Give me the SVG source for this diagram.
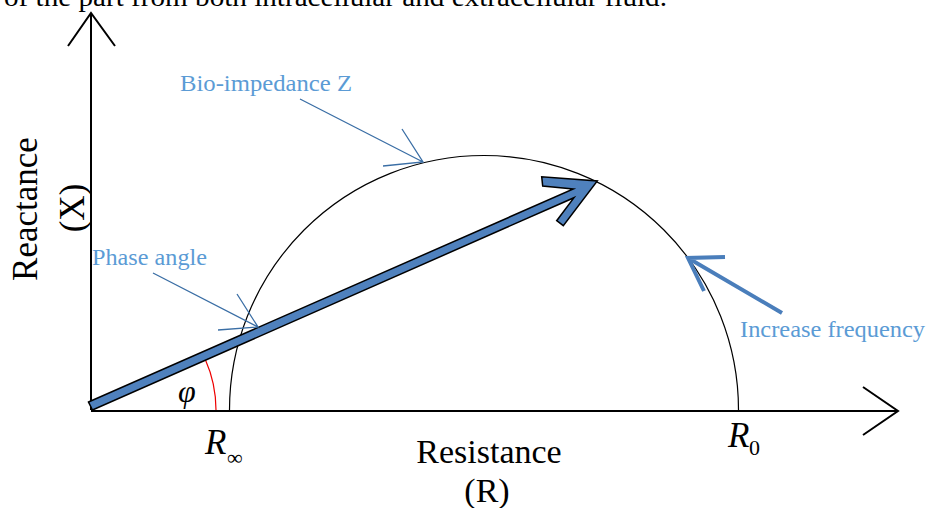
<svg xmlns="http://www.w3.org/2000/svg" width="926" height="508" viewBox="0 0 926 508">
<style>
.serif{font-family:"Liberation Serif","Times New Roman",serif;fill:#000}
.lbl{font-family:"Liberation Serif","Times New Roman",serif;fill:#5b9bd5;font-size:24px}
.axis{fill:none;stroke:#000;stroke-width:2}
.ptr{fill:none;stroke:#3a6ea5;stroke-width:1.3}
.it{font-style:italic}
</style>
<rect width="926" height="508" fill="#fff"/>
<text class="serif" x="4" y="6" font-size="28" textLength="663" lengthAdjust="spacingAndGlyphs">of the part from both intracellular and extracellular fluid.</text>
<g id="axes">
<path class="axis" d="M91,410 V13 M68,46 L91,13 L115,46"/>
<path class="axis" d="M91,411 H898 M863,387 L898,411 L863,435"/>
</g>
<g id="semicircle">
<path d="M229.5,410 A254.5,254.5 0 0 1 738.5,410" fill="none" stroke="#000" stroke-width="1.2"/>
</g>
<g id="phase-arc">
<path d="M205.3,359.4 A125,125 0 0 1 216,410" fill="none" stroke="#e00" stroke-width="1.2"/>
<text class="serif it" x="178" y="402" font-size="32">φ</text>
</g>
<g id="impedance-vector">
<polygon points="88.5,402 573.3,189 542.7,186 541.7,176.7 597.3,181 563.3,225.7 556.7,220.7 574,197.7 92.5,410" fill="#4f81bd" stroke="#000" stroke-width="1.5" stroke-linejoin="miter"/>
</g>
<g id="connectors">
<path class="ptr" d="M300,99 L423,162 M402,129 L423,162 L383,166"/>
<path class="ptr" d="M153,273 L258,327 M237,294 L258,327 L218,330"/>
<path d="M782,313 L688,258 M725,257 L688,258 L704,291" fill="none" stroke="#4a7ebb" stroke-width="4"/>
</g>
<g id="labels">
<text class="lbl" x="180" y="91" textLength="172" lengthAdjust="spacingAndGlyphs">Bio-impedance Z</text>
<text class="lbl" x="92" y="265" textLength="115" lengthAdjust="spacingAndGlyphs">Phase angle</text>
<text class="lbl" x="740" y="337" textLength="185" lengthAdjust="spacingAndGlyphs">Increase frequency</text>
<text class="serif" x="489" y="463" font-size="34" text-anchor="middle">Resistance</text>
<text class="serif" x="487" y="502" font-size="34" text-anchor="middle">(R)</text>
<g transform="translate(37,209) rotate(-90)"><text class="serif" x="0" y="0" font-size="35" text-anchor="middle">Reactance</text></g>
<g transform="translate(84,208) rotate(-90)"><text class="serif" x="0" y="0" font-size="35" text-anchor="middle">(X)</text></g>
<text class="serif it" x="205" y="454" font-size="35">R</text>
<text class="serif" x="227" y="465" font-size="22">∞</text>
<text class="serif it" x="728" y="447" font-size="35">R</text>
<text class="serif" x="749" y="455" font-size="22">0</text>
</g>
</svg>
